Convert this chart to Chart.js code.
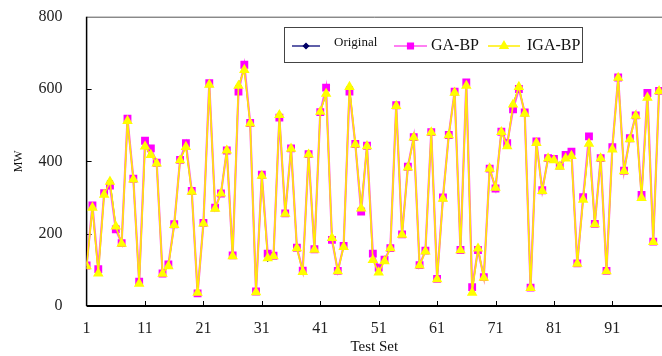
<!DOCTYPE html>
<html>
<head>
<meta charset="utf-8">
<script src="https://cdn.jsdelivr.net/npm/chart.js@4"></script>
<style>
  body { margin: 0; background: #fff; }
  #wrap { width: 662px; height: 356px; }
</style>
</head>
<body>
<div id="wrap"><canvas id="lineChart" width="662" height="356"></canvas></div>
<script>
// test set index (x) and tick labels
const testSet = [];
for (let i = 1; i <= 99; i++) testSet.push(i);
const xTicks = [1, 11, 21, 31, 41, 51, 61, 71, 81, 91];
const yTicks = [0, 200, 400, 600, 800];

// MW values
const original = [110, 270, 92, 310, 346, 222, 172, 514, 351, 63,
  440, 420, 395, 90, 110, 224, 405, 441, 316, 38,
  229, 612, 270, 312, 432, 139, 610, 655, 506, 40,
  360, 130, 139, 529, 255, 436, 162, 95, 420, 157,
  538, 585, 189, 97, 164, 607, 447, 272, 443, 127,
  95, 125, 161, 554, 198, 383, 467, 113, 152, 481,
  75, 298, 473, 591, 155, 610, 38, 160, 79, 381,
  328, 482, 443, 558, 607, 533, 51, 452, 319, 409,
  404, 386, 409, 416, 118, 295, 450, 227, 409, 97,
  434, 632, 374, 462, 527, 300, 577, 178, 595];
const gaBP = [112, 278, 102, 312, 333, 212, 174, 518, 352, 67,
  457, 436, 396, 90, 115, 226, 404, 450, 318, 35,
  230, 616, 272, 311, 430, 140, 593, 667, 506, 40,
  363, 145, 139, 521, 256, 436, 161, 98, 420, 157,
  536, 604, 183, 97, 166, 593, 448, 261, 443, 145,
  106, 128, 160, 555, 198, 385, 467, 113, 153, 481,
  75, 300, 473, 593, 155, 618, 52, 155, 80, 380,
  325, 482, 450, 544, 600, 535, 51, 455, 320, 409,
  407, 388, 418, 427, 118, 301, 469, 227, 409, 97,
  439, 632, 374, 464, 527, 307, 589, 178, 595];
const igaBP = [110, 272, 90, 308, 344, 220, 172, 512, 350, 62,
  441, 418, 394, 89, 110, 224, 403, 440, 316, 37,
  228, 612, 269, 311, 430, 138, 609, 653, 505, 38,
  360, 132, 138, 528, 255, 435, 160, 94, 419, 156,
  537, 587, 188, 96, 163, 606, 447, 270, 442, 127,
  93, 124, 160, 553, 197, 383, 466, 112, 151, 480,
  74, 297, 472, 590, 154, 609, 37, 159, 78, 380,
  327, 481, 442, 557, 606, 532, 50, 451, 318, 408,
  403, 385, 408, 415, 117, 294, 449, 226, 408, 96,
  433, 631, 373, 461, 526, 299, 576, 177, 594];

const serif = "'Liberation Serif', 'Times New Roman', serif";

function toPoints(vals) {
  return vals.map((v, i) => ({ x: testSet[i], y: v }));
}

// the axes should not push the plot area in for their labels
function noPad(s) {
  s.paddingTop = 0;
  s.paddingBottom = 0;
  s.paddingLeft = 0;
  s.paddingRight = 0;
}

// frame, inward tick marks
const framePlugin = {
  id: 'frame',
  beforeDatasetsDraw(chart) {
    const { ctx, chartArea: a, scales } = chart;
    ctx.save();
    ctx.strokeStyle = '#555';
    ctx.lineWidth = 1;
    ctx.beginPath();
    ctx.moveTo(a.left, a.top + 0.5);
    ctx.lineTo(a.right, a.top + 0.5);
    ctx.stroke();
    ctx.strokeStyle = '#000';
    ctx.lineWidth = 1.5;
    ctx.beginPath();
    ctx.moveTo(a.left, a.top);
    ctx.lineTo(a.left, a.bottom);
    ctx.stroke();
    ctx.lineWidth = 2;
    ctx.beginPath();
    ctx.moveTo(a.left, a.bottom);
    ctx.lineTo(a.right, a.bottom);
    ctx.stroke();
    ctx.lineWidth = 1;
    yTicks.slice(1, -1).forEach(t => {
      const y = Math.round(scales.y.getPixelForValue(t)) + 0.5;
      ctx.beginPath();
      ctx.moveTo(a.left, y);
      ctx.lineTo(a.left + 5, y);
      ctx.stroke();
    });
    xTicks.slice(1).forEach(t => {
      const x = Math.round(scales.x.getPixelForValue(t)) + 0.5;
      ctx.beginPath();
      ctx.moveTo(x, a.bottom);
      ctx.lineTo(x, a.bottom - 5);
      ctx.stroke();
    });
    ctx.restore();
  }
};

// boxed legend inside the plot
const legendPlugin = {
  id: 'boxLegend',
  afterDraw(chart) {
    const ctx = chart.ctx;
    const bx = 284, by = 27, bw = 298, bh = 35;
    ctx.save();
    ctx.fillStyle = '#fff';
    ctx.fillRect(bx, by, bw, bh);
    ctx.strokeStyle = '#444';
    ctx.lineWidth = 1;
    ctx.strokeRect(bx + 0.5, by + 0.5, bw, bh);
    const items = [
      { ds: 0, x1: 292, x2: 320, tx: 334, font: '13px ' + serif, ty: 43 },
      { ds: 1, x1: 394, x2: 427, tx: 431, font: '16px ' + serif, ty: 46 },
      { ds: 2, x1: 488, x2: 520, tx: 527, font: '16px ' + serif, ty: 46 }
    ];
    const ly = 46;
    items.forEach(it => {
      const d = chart.data.datasets[it.ds];
      ctx.strokeStyle = d.borderColor;
      ctx.lineWidth = 1.5;
      ctx.beginPath();
      ctx.moveTo(it.x1, ly);
      ctx.lineTo(it.x2, ly);
      ctx.stroke();
      ctx.fillStyle = d.pointBackgroundColor;
      ctx.strokeStyle = d.pointBorderColor;
      Chart.helpers.drawPoint(ctx, {
        pointStyle: d.pointStyle, radius: d.pointRadius, rotation: 0, borderWidth: 1
      }, (it.x1 + it.x2) / 2, ly);
      ctx.fillStyle = '#111';
      ctx.font = it.font;
      ctx.textBaseline = 'middle';
      ctx.textAlign = 'left';
      ctx.fillText(d.label, it.tx, it.ty);
    });
    ctx.restore();
  }
};

new Chart(document.getElementById('lineChart'), {
  type: 'line',
  data: {
    datasets: [{
      label: 'Original',
      data: toPoints(original),
      borderColor: '#2a2a8c',
      borderWidth: 1,
      pointStyle: 'rectRot',
      pointRadius: 2.5,
      pointBackgroundColor: '#000066',
      pointBorderColor: '#000066',
      order: 3
    }, {
      label: 'GA-BP',
      data: toPoints(gaBP),
      borderColor: '#ff55ee',
      borderWidth: 2.2,
      pointStyle: 'rect',
      pointRadius: 4,
      pointBackgroundColor: '#ff00ff',
      pointBorderColor: '#ff00ff',
      order: 2
    }, {
      label: 'IGA-BP',
      data: toPoints(igaBP),
      borderColor: '#ffee00',
      borderWidth: 1.6,
      pointStyle: 'triangle',
      pointRadius: 4.5,
      pointBackgroundColor: '#ffff00',
      pointBorderColor: '#ffff00',
      order: 1
    }]
  },
  options: {
    responsive: false,
    animation: false,
    layout: { autoPadding: false, padding: { top: 16.7, right: 0, left: 0, bottom: 0 } },
    plugins: { legend: { display: false }, tooltip: { enabled: false } },
    elements: { line: { tension: 0 } },
    scales: {
      x: {
        type: 'linear',
        min: 1,
        max: 99.5,
        afterFit: s => { s.height = 50; noPad(s); },
        afterBuildTicks: s => { s.ticks = xTicks.map(v => ({ value: v })); },
        grid: { display: false, drawTicks: false },
        border: { display: false },
        ticks: { color: '#222', font: { family: serif, size: 16 }, padding: 13, maxRotation: 0, autoSkip: false },
        title: { display: true, text: 'Test Set', color: '#111', font: { family: serif, size: 15 }, padding: { top: 0, bottom: 0 } }
      },
      y: {
        min: 0,
        max: 800,
        afterFit: s => { s.width = 86.6; noPad(s); },
        afterBuildTicks: s => { s.ticks = yTicks.map(v => ({ value: v })); },
        grid: { display: false, drawTicks: false },
        border: { display: false },
        ticks: { color: '#222', font: { family: serif, size: 16 }, padding: 24 },
        title: { display: true, text: 'MW', color: '#111', font: { family: serif, size: 12 }, padding: { top: 12, bottom: 0 } }
      }
    }
  },
  plugins: [framePlugin, legendPlugin]
});
</script>
</body>
</html>
